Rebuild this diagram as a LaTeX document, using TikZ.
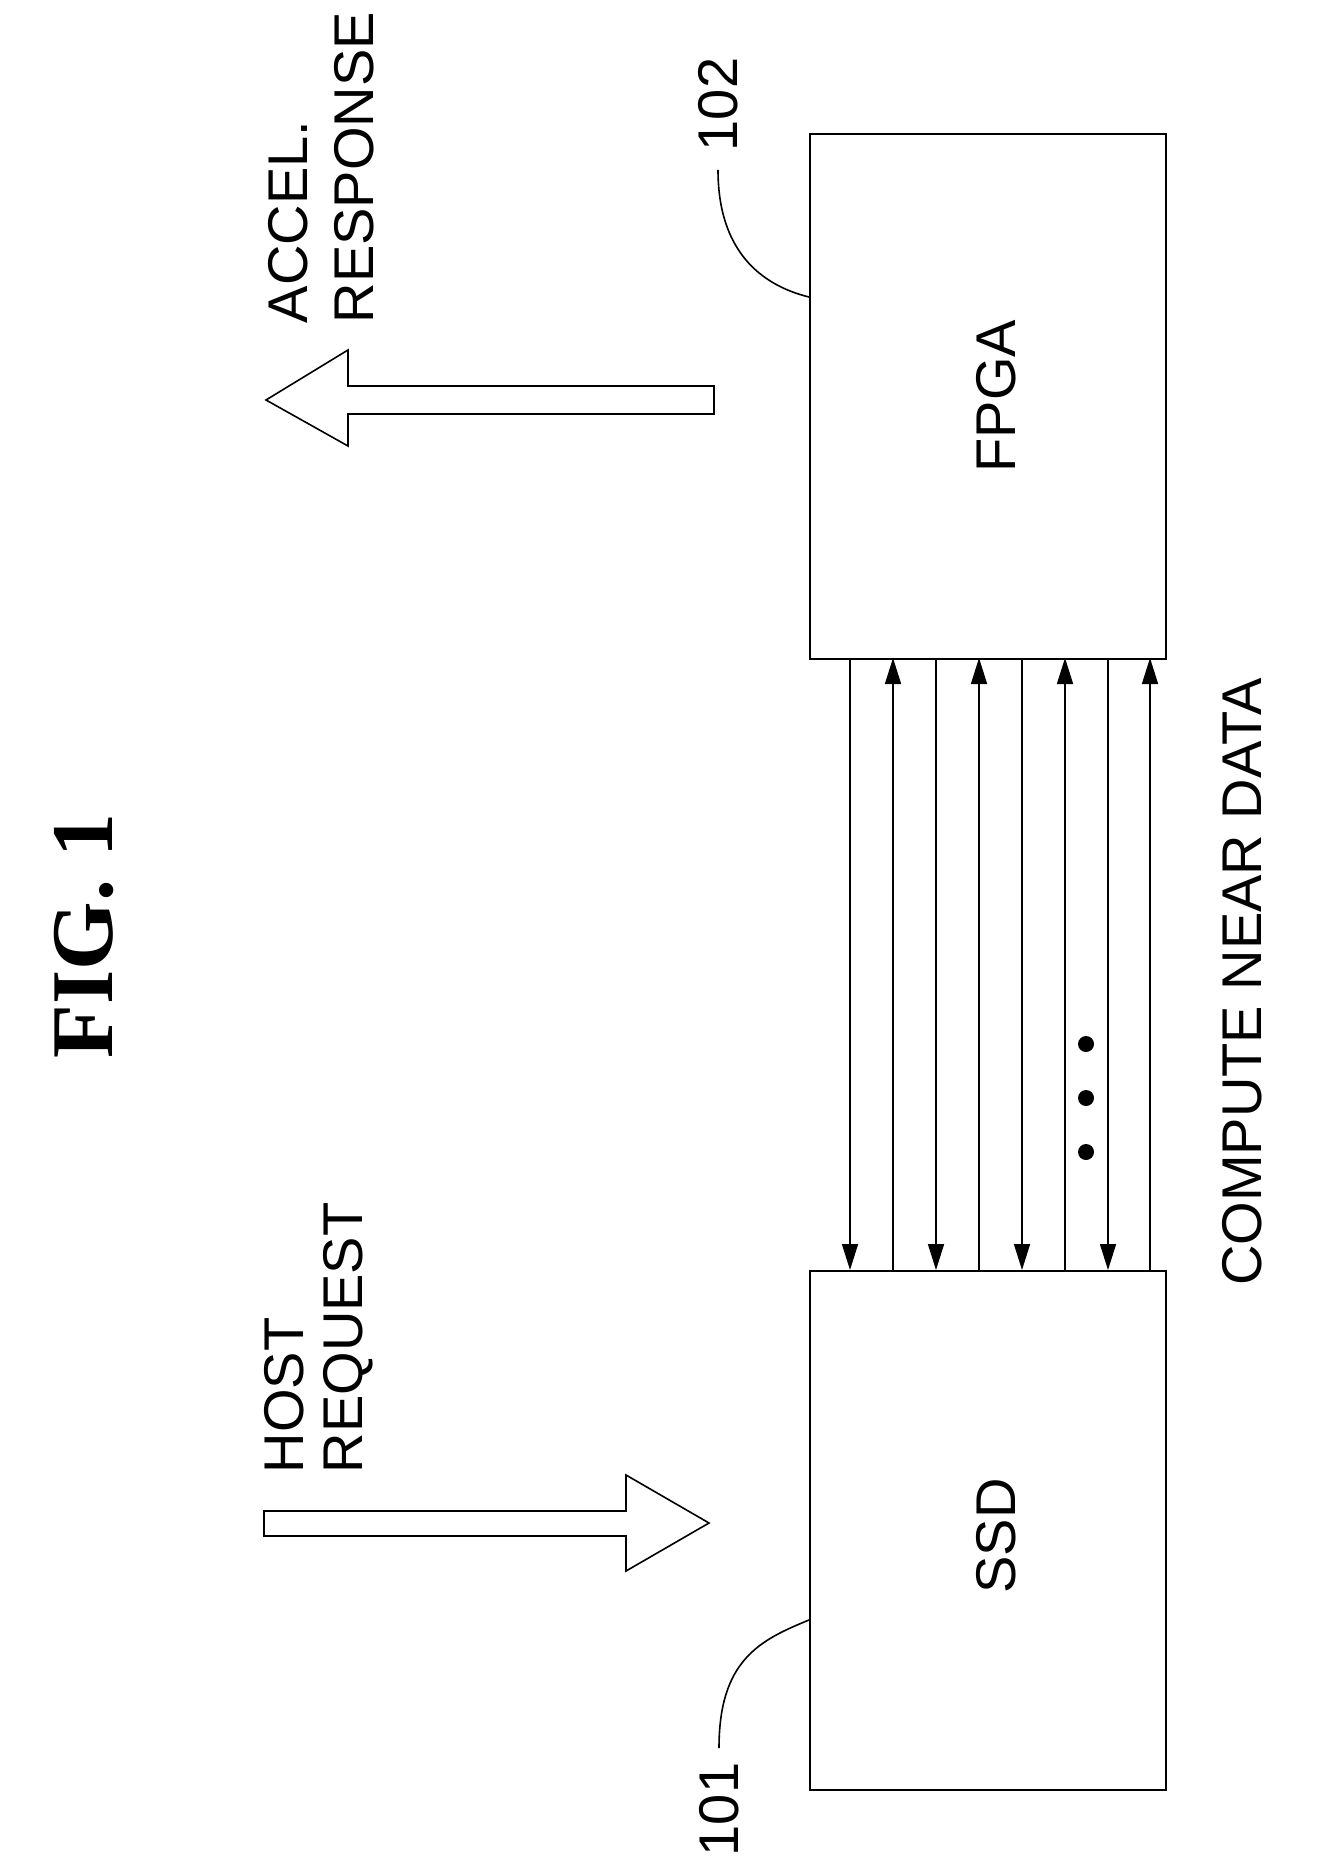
\documentclass[tikz,border=0pt]{standalone}
\usepackage{fontspec}
\setmainfont{Liberation Sans}
\newfontfamily\figfont{Liberation Serif}
\usetikzlibrary{arrows.meta}
\begin{document}
\begin{tikzpicture}[x=0.5pt,y=-0.5pt,line width=0.8pt,
  lbl/.style={font=\fontsize{28}{30}\selectfont,inner sep=0pt},
  rlbl/.style={lbl,rotate=90,anchor=west},
  blk/.style={draw,minimum width=178pt,inner sep=0pt},
  tip/.style={-{Triangle[length=13pt,width=8pt]}},
  bigarrow/.style={draw,line width=0.8pt,fill=white}]
\useasboundingbox (0,0) rectangle (1337,1871);
\node[blk,minimum height=262.5pt,anchor=north west] (fpga) at (809,133) {};
\node[blk,minimum height=259.5pt,anchor=north west] (ssd) at (809,1270) {};
\node[lbl,rotate=90] (fpgal) at (996,396) {FPGA};
\node[lbl,rotate=90] (ssdl) at (996,1536) {SSD};
\foreach \i/\x in {1/850,2/893,3/936,4/979,5/1022,6/1065,7/1108,8/1150}{
  \coordinate (t\i) at (\x,658); \coordinate (b\i) at (\x,1270);}
\foreach \i in {1,3,5,7}{\draw[tip] (t\i) -- (b\i);}
\foreach \i in {2,4,6,8}{\draw[tip] (b\i) -- (t\i);}
\foreach \y in {1044,1098,1152}{\fill (1086,\y) circle (4pt);}
% host request arrow
\draw[bigarrow] (264,1511) -- (626,1511) -- (626,1475) -- (709,1523) -- (626,1571) -- (626,1536) -- (264,1536) -- cycle;
\node[rlbl] (host) at (284,1474) {HOST};
\node[rlbl] (req) at (348,1474) {REQUEST};
% accel response arrow
\draw[bigarrow] (714,386) -- (348,386) -- (348,350) -- (266,400) -- (348,446) -- (348,414) -- (714,414) -- cycle;
\node[rlbl] (acc) at (288,324) {ACCEL.};
\node[rlbl] (resp) at (354,324) {RESPONSE};
\node[font=\figfont\bfseries\fontsize{44}{46}\selectfont,rotate=90] (fig) at (84,936) {FIG. 1};
\node[lbl,rotate=90] (cnd) at (1242,982) {COMPUTE NEAR DATA};
% reference labels
\node[lbl,rotate=90,anchor=west] (n101) at (719,1857) {101};
\node[lbl,rotate=90,anchor=west] (n102) at (718,152) {102};
\coordinate (s101) at (719,1748);
\coordinate (s102) at (718,170);
\draw (s101) .. controls (719,1660) and (760,1640) .. (809,1620);
\draw (s102) .. controls (718,250) and (760,285) .. (809,297);
\end{tikzpicture}
\end{document}
